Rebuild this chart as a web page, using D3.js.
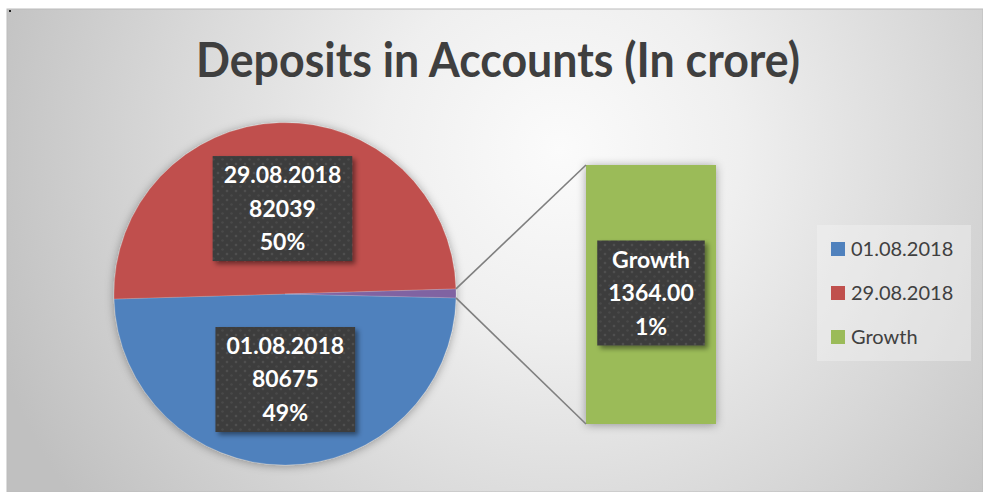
<!DOCTYPE html>
<html>
<head>
<meta charset="utf-8">
<script src="https://cdn.jsdelivr.net/npm/d3@7"></script>
<style>
  html, body { margin: 0; padding: 0; background: #fff; }
  svg { display: block; }
</style>
</head>
<body>
<div id="chart"></div>
<script>
// chart data
const title = "Deposits in Accounts (In crore)";
const categories = ["01.08.2018", "29.08.2018", "Growth"];
const values = [80675, 82039, 1364];
const colors = ["#4f81bd", "#c0504d", "#9bbb59"];
const otherColor = "#8064a2"; // growth slice inside the pie

const W = 983, H = 492;
const frame = { x: 7, y: 9, w: 976, h: 483 };
const pieC = { x: 285, y: 294, r: 171 };
const bar = { x0: 586, x1: 716, top: 165, bottom: 424 };

const svg = d3.select("#chart").append("svg")
  .attr("width", W).attr("height", H);

const defs = svg.append("defs");

const bg = defs.append("radialGradient")
  .attr("id", "bg").attr("gradientUnits", "userSpaceOnUse")
  .attr("cx", 560).attr("cy", 150).attr("r", 600);
[[0, "#fbfbfb"], [0.3, "#efefef"], [0.65, "#d8d8d8"], [1, "#c0c0c0"]]
  .forEach(([o, c]) => bg.append("stop").attr("offset", o).attr("stop-color", c));

const pieShadow = defs.append("filter").attr("id", "pieShadow")
  .attr("x", "-20%").attr("y", "-20%").attr("width", "140%").attr("height", "140%");
pieShadow.append("feDropShadow").attr("dx", 0).attr("dy", 1)
  .attr("stdDeviation", 5).attr("flood-color", "#000").attr("flood-opacity", 0.35);

const boxShadow = defs.append("filter").attr("id", "boxShadow")
  .attr("x", "-20%").attr("y", "-20%").attr("width", "150%").attr("height", "150%");
boxShadow.append("feDropShadow").attr("dx", 3).attr("dy", 3)
  .attr("stdDeviation", 2.5).attr("flood-color", "#000").attr("flood-opacity", 0.45);

// dotted dark texture for the data labels
const pat = defs.append("pattern").attr("id", "dots")
  .attr("patternUnits", "userSpaceOnUse").attr("width", 9).attr("height", 9);
pat.append("rect").attr("width", 9).attr("height", 9).attr("fill", "#3d3d3d");
pat.append("circle").attr("cx", 2).attr("cy", 2).attr("r", 1.3).attr("fill", "#505050");
pat.append("circle").attr("cx", 6.5).attr("cy", 6.5).attr("r", 1.3).attr("fill", "#484848");

// chart area
svg.append("rect")
  .attr("x", frame.x).attr("y", frame.y)
  .attr("width", frame.w).attr("height", frame.h)
  .attr("fill", "url(#bg)").attr("stroke", "#bcbcbc").attr("stroke-width", 1);
svg.append("rect").attr("x", 9).attr("y", 10).attr("width", 2).attr("height", 2).attr("fill", "#222");

// title
const titleText = svg.append("text")
  .attr("x", 498).attr("y", 77)
  .attr("text-anchor", "middle")
  .attr("font-family", "Lato, 'Open Sans', sans-serif")
  .attr("font-weight", "bold")
  .attr("font-size", 48)
  .attr("fill", "#3f3f3f")
  .text(title);
const tw = titleText.node().getComputedTextLength();
if (tw > 604) titleText.attr("textLength", 604).attr("lengthAdjust", "spacingAndGlyphs");

// pie: slices clockwise blue, red, then the growth slice at 3 o'clock
const total = d3.sum(values);
const pct = d3.format(".0%");
const startA = 91.3 * Math.PI / 180;
const pie = d3.pie().sort(null).value(d => d)
  .startAngle(startA).endAngle(startA + 2 * Math.PI);
const arcs = pie(values);
const arc = d3.arc().innerRadius(0).outerRadius(pieC.r);

const pieG = svg.append("g")
  .attr("transform", `translate(${pieC.x},${pieC.y})`);
pieG.append("g").attr("filter", "url(#pieShadow)")
  .selectAll("path")
  .data(arcs)
  .join("path")
  .attr("d", arc)
  .attr("fill", (d, i) => i === 2 ? otherColor : colors[i])
  .attr("stroke", "rgba(255,255,255,0.25)")
  .attr("stroke-width", 0.6);

// bar of the growth item
const yBar = d3.scaleLinear().domain([0, values[2]]).range([bar.bottom, bar.top]);
svg.append("rect")
  .attr("x", bar.x0).attr("y", yBar(values[2]))
  .attr("width", bar.x1 - bar.x0)
  .attr("height", yBar(0) - yBar(values[2]))
  .attr("fill", colors[2])
  .attr("filter", "url(#pieShadow)");

// connector lines from the growth slice to the bar
const g = arcs[2];
const edge = a => [pieC.x + pieC.r * Math.sin(a), pieC.y - pieC.r * Math.cos(a)];
const pTop = edge(g.startAngle), pBot = edge(g.endAngle);
svg.append("line")
  .attr("x1", pTop[0]).attr("y1", pTop[1])
  .attr("x2", bar.x0).attr("y2", yBar(values[2]))
  .attr("stroke", "#7f7f7f").attr("stroke-width", 1.6);
svg.append("line")
  .attr("x1", pBot[0]).attr("y1", pBot[1])
  .attr("x2", bar.x0).attr("y2", yBar(0))
  .attr("stroke", "#7f7f7f").attr("stroke-width", 1.6);

// data labels
function label(cx, cy, lines) {
  const lg = svg.append("g");
  const box = lg.append("rect").attr("fill", "url(#dots)").attr("filter", "url(#boxShadow)");
  const t = lg.append("text")
    .attr("text-anchor", "middle")
    .attr("font-family", "Lato, 'Open Sans', sans-serif")
    .attr("font-weight", "bold")
    .attr("font-size", 23)
    .attr("fill", "#fff");
  const lh = 33.5;
  lines.forEach((s, k) => {
    t.append("tspan").attr("x", cx)
      .attr("y", cy + (k - (lines.length - 1) / 2) * lh + 8)
      .text(s);
  });
  const bb = t.node().getBBox();
  const padX = 11, padY = 8;
  box.attr("x", bb.x - padX).attr("y", cy - 52.5)
    .attr("width", bb.width + 2 * padX).attr("height", 105);
}

const labelArc = d3.arc().innerRadius(0).outerRadius(pieC.r);
[0, 1].forEach(i => {
  const c = labelArc.centroid(arcs[i]);
  label(pieC.x + c[0], pieC.y + c[1], [categories[i], String(values[i]), pct(values[i] / total)]);
});
label((bar.x0 + bar.x1) / 2, (yBar(0) + yBar(values[2])) / 2 - 1.5,
  [categories[2], d3.format(".2f")(values[2]), pct(values[2] / total)]);

// legend
const legend = svg.append("g").attr("transform", "translate(817,225)");
legend.append("rect")
  .attr("width", 154).attr("height", 136)
  .attr("fill", "#f4f4f4").attr("opacity", 0.4);
const item = legend.selectAll("g.item")
  .data(categories)
  .join("g")
  .attr("class", "item")
  .attr("transform", (d, i) => `translate(14,${24 + i * 44})`);
item.append("rect")
  .attr("x", 0).attr("y", -7).attr("width", 14).attr("height", 14)
  .attr("fill", (d, i) => colors[i]);
item.append("text")
  .attr("x", 20).attr("y", 7)
  .attr("font-family", "Lato, 'Open Sans', sans-serif")
  .attr("font-size", 20)
  .attr("fill", "#404040")
  .text(d => d);
</script>
</body>
</html>
